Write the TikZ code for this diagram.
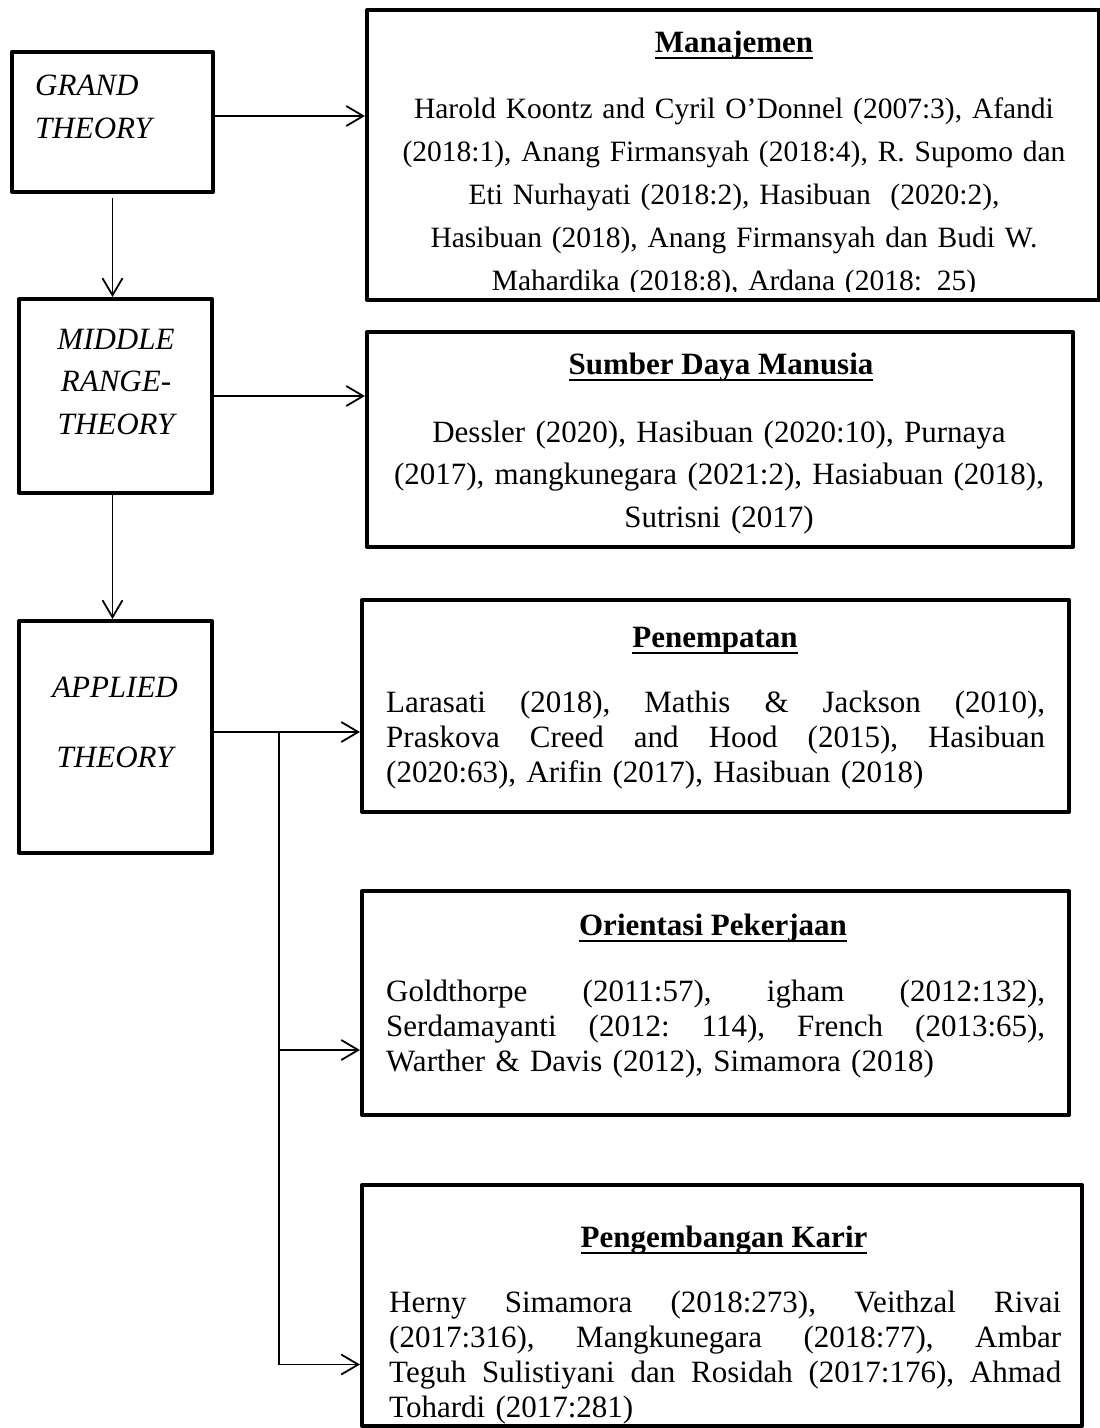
\documentclass[tikz,border=0pt]{standalone}
\usepackage{fontspec}
\setmainfont{Liberation Serif}
\usetikzlibrary{arrows.meta, calc}
\newcommand{\titleline}[1]{\setbox0\hbox{#1}\rlap{\rule[-7pt]{\wd0}{2.4pt}}\box0}
\newcommand{\spreadline}[2][659pt]{\makebox[#1][s]{\frenchspacing\spaceskip=7.75pt plus 1fil\relax #2}}
\tikzset{
  refbox/.style={draw, line width=4pt, line join=round, inner sep=0pt},
  link/.style={-{Straight Barb[length=17pt,width=20pt]}, line width=1.8pt},
  headtext/.style={font=\fontsize{31}{35}\selectfont\bfseries, inner sep=0pt, anchor=base},
  bodytext/.style={font=\fontsize{31}{35}\selectfont, inner sep=0pt, align=left, anchor=base west},
  theorytext/.style={font=\fontsize{31}{42.5}\selectfont\itshape, inner sep=0pt}
}
\begin{document}
\begin{tikzpicture}[x=1pt, y=-1pt]
\useasboundingbox (0,0) rectangle (1100,1428);
\node[refbox, minimum width=201pt, minimum height=140pt] (grand) at (112.5,122) {};
\node[refbox, minimum width=193pt, minimum height=194pt] (middle) at (115.5,396) {};
\node[refbox, minimum width=193pt, minimum height=232pt] (applied) at (115.5,737) {};
\node[theorytext, align=left, text width=170pt, font=\fontsize{31}{43.5}\selectfont\itshape, anchor=base west] (grand-text) at (35,95) {GRAND\\THEORY};
\node[theorytext, align=center, text width=190pt, anchor=base] (middle-text) at (116,349) {MIDDLE\\RANGE-\\THEORY};
\node[theorytext, align=center, text width=190pt, anchor=base] (applied-text) at (115,697) {APPLIED\\[27.5pt]THEORY};

\node[refbox, minimum width=732pt, minimum height=290pt] (mgmt) at (733,155) {};
\node[refbox, minimum width=706pt, minimum height=215pt] (sdm) at (720,439.5) {};
\node[refbox, minimum width=707pt, minimum height=212pt] (place) at (715.5,706) {};
\node[refbox, minimum width=707pt, minimum height=224pt] (orient) at (715.5,1003) {};
\node[refbox, minimum width=720pt, minimum height=241pt] (career) at (722,1305.5) {};

\node[headtext] (mgmt-title) at (734,52) {\titleline{Manajemen}};
\begin{scope}
  \clip (mgmt.north west) rectangle ($(mgmt.south east)+(0,-11)$);
  \node[bodytext, font=\fontsize{29.5}{43}\selectfont, align=center, text width=720pt, anchor=base] (mgmt-text) at (734,118)
    {Harold Koontz and Cyril O’Donnel (2007:3), Afandi\\
     (2018:1), Anang Firmansyah (2018:4), R. Supomo dan\\
     Eti Nurhayati (2018:2), Hasibuan~ (2020:2),\\
     Hasibuan (2018), Anang Firmansyah dan Budi W.\\
     Mahardika (2018:8), Ardana (2018: 25)};
\end{scope}

\node[headtext] (sdm-title) at (721,374) {\titleline{Sumber Daya Manusia}};
\node[bodytext, font=\fontsize{31}{42.5}\selectfont, align=center, text width=700pt, anchor=base] (sdm-text) at (719,442)
  {Dessler (2020), Hasibuan (2020:10), Purnaya\\
   (2017), mangkunegara (2021:2), Hasiabuan (2018),\\
   Sutrisni (2017)};

\node[headtext] (place-title) at (715,647) {\titleline{Penempatan}};
\node[bodytext, text width=659pt] (place-text) at (386,712)
  {\spreadline{Larasati (2018), Mathis \& Jackson (2010),}\\
   \spreadline{Praskova Creed and Hood (2015), Hasibuan}\\
   (2020:63), Arifin (2017), Hasibuan (2018)};

\node[headtext] (orient-title) at (713,935) {\titleline{Orientasi Pekerjaan}};
\node[bodytext, text width=659pt] (orient-text) at (386,1001)
  {\spreadline{Goldthorpe (2011:57), igham (2012:132),}\\
   \spreadline{Serdamayanti (2012: 114), French (2013:65),}\\
   Warther \& Davis (2012), Simamora (2018)};

\node[headtext] (career-title) at (724,1247) {\titleline{Pengembangan Karir}};
\node[bodytext, text width=672pt] (career-text) at (389,1312)
  {\spreadline[672pt]{Herny Simamora (2018:273), Veithzal Rivai}\\
   \spreadline[672pt]{(2017:316), Mangkunegara (2018:77), Ambar}\\
   \spreadline[672pt]{Teguh Sulistiyani dan Rosidah (2017:176), Ahmad}\\
   Tohardi (2017:281)};

\draw[link] ([yshift=6pt]grand.east) -- ([yshift=6pt]grand.east -| mgmt.west);
\draw[link, shorten <=4pt] (grand.south) -- (grand.south |- middle.north);
\draw[link] (middle.east) -- (middle.east -| sdm.west);
\draw[link] ([xshift=-3pt]middle.south) -- ([xshift=-3pt]middle.south |- applied.north);
\draw[link] ([yshift=5pt]applied.east) -- ([yshift=5pt]applied.east -| place.west);
\coordinate (split) at (279,732);
\draw[link] (split) |- ([yshift=-47pt]orient.west);
\draw[link] (split) |- ([yshift=-59pt]career.west);
\end{tikzpicture}
\end{document}
